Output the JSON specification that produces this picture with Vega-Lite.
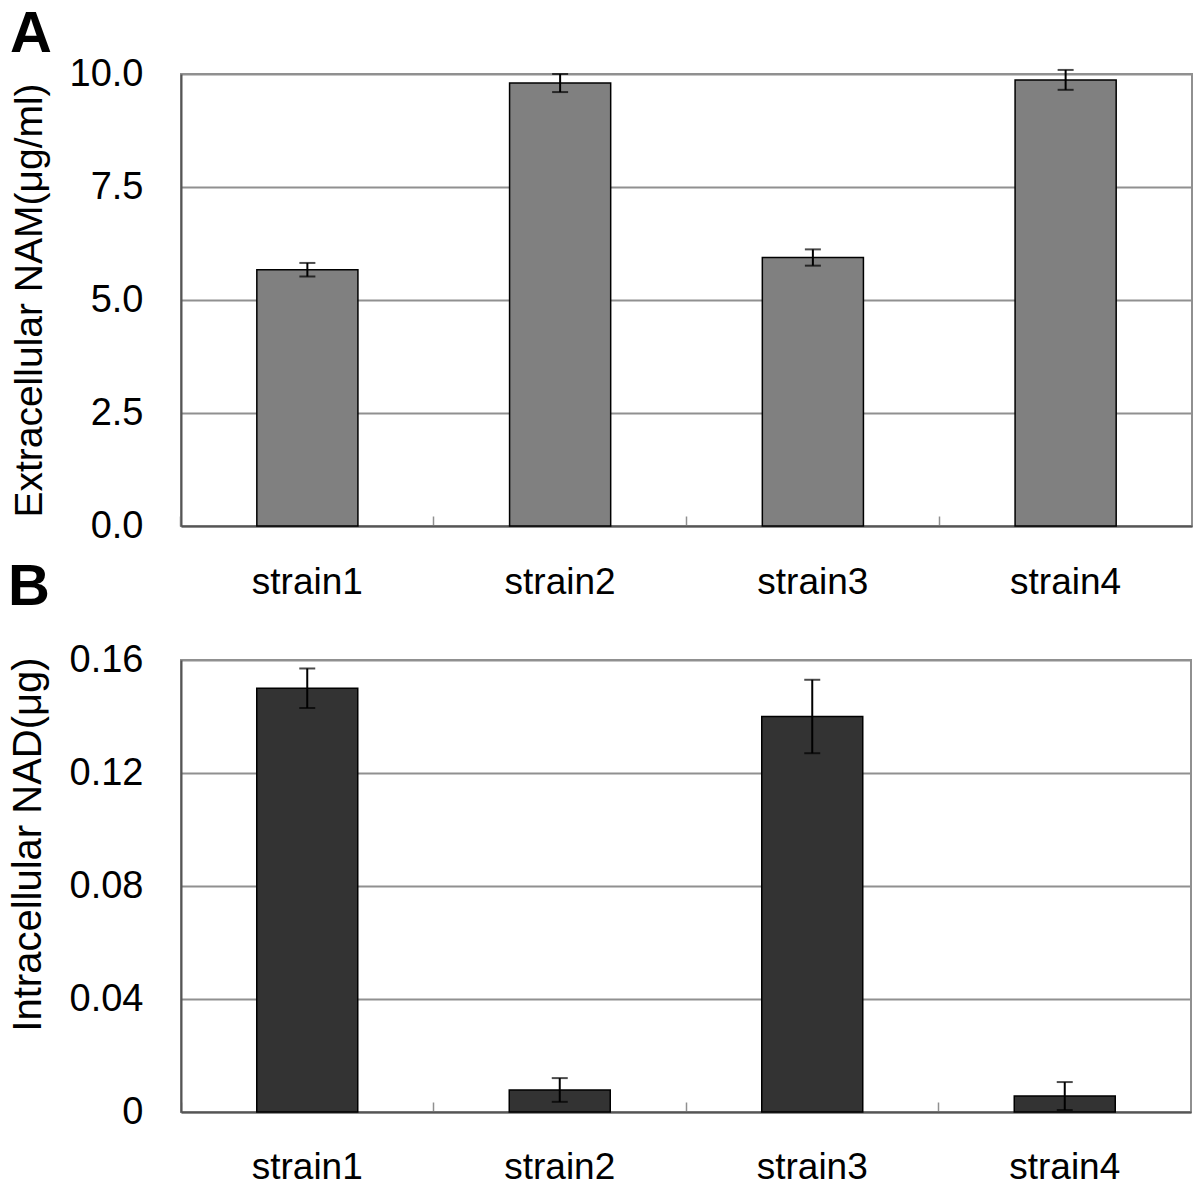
{
  "$schema": "https://vega.github.io/schema/vega-lite/v6.json",
  "padding": {"left": 7, "top": 5, "right": 0, "bottom": 0},
  "background": "white",
  "config": {
    "view": {"stroke": "#909090", "strokeWidth": 2},
    "font": "Liberation Sans"
  },
  "columns": 1,
  "spacing": -43,
  "concat": [
    {
      "width": 1011,
      "height": 452,
      "title": {"text": "A", "anchor": "start", "frame": "bounds", "fontSize": 58, "fontWeight": "bold", "font": "Liberation Sans", "color": "black", "offset": -9},
      "data": {"values": [
        {"strain": "strain1", "value": 5.67, "lo": 5.52, "hi": 5.82},
        {"strain": "strain2", "value": 9.80, "lo": 9.60, "hi": 10.0},
        {"strain": "strain3", "value": 5.94, "lo": 5.76, "hi": 6.12},
        {"strain": "strain4", "value": 9.87, "lo": 9.65, "hi": 10.09}
      ]},
      "layer": [
        {
          "mark": {"type": "bar", "fill": "#808080", "stroke": "black", "strokeWidth": 1.5},
          "encoding": {
            "x": {"field": "strain", "type": "nominal", "sort": null,
              "scale": {"paddingInner": 0.6, "paddingOuter": 0.3},
              "axis": {"title": null, "labelAngle": 0, "labelFontSize": 37, "labelColor": "black", "labelFont": "Liberation Sans",
                "tickSize": -10, "tickColor": "#909090", "tickWidth": 1.5, "bandPosition": -0.75, "labelPadding": 48,
                "domainColor": "#555555", "domainWidth": 2, "grid": false}},
            "y": {"field": "value", "type": "quantitative", "title": "Extracellular NAM(μg/ml)",
              "scale": {"domain": [0, 10]},
              "axis": {"values": [0, 2.5, 5, 7.5, 10], "format": ".1f", "ticks": false, "labelPadding": 38,
                "labelFontSize": 38, "labelColor": "black", "labelFont": "Liberation Sans",
                "titleFontSize": 39, "titleFontWeight": "normal", "titleColor": "black", "titleFont": "Liberation Sans", "titlePadding": 20,
                "domainColor": "#555555", "domainWidth": 2, "grid": true, "gridColor": "#909090", "gridWidth": 2}}
          }
        },
        {
          "mark": {"type": "errorbar", "ticks": {"size": 16, "thickness": 2, "color": "black"}, "rule": {"strokeWidth": 2, "color": "black"}},
          "encoding": {
            "x": {"field": "strain", "type": "nominal", "sort": null},
            "y": {"field": "lo", "type": "quantitative", "title": "Extracellular NAM(μg/ml)"},
            "y2": {"field": "hi"}
          }
        }
      ]
    },
    {
      "width": 1010,
      "height": 452,
      "title": {"text": "B", "anchor": "start", "frame": "bounds", "fontSize": 58, "fontWeight": "bold", "font": "Liberation Sans", "color": "black", "offset": 24},
      "data": {"values": [
        {"strain": "strain1", "value": 0.150, "lo": 0.143, "hi": 0.157},
        {"strain": "strain2", "value": 0.0078, "lo": 0.0036, "hi": 0.012},
        {"strain": "strain3", "value": 0.140, "lo": 0.127, "hi": 0.153},
        {"strain": "strain4", "value": 0.0057, "lo": 0.0007, "hi": 0.0106}
      ]},
      "layer": [
        {
          "mark": {"type": "bar", "fill": "#333333", "stroke": "black", "strokeWidth": 1.5},
          "encoding": {
            "x": {"field": "strain", "type": "nominal", "sort": null,
              "scale": {"paddingInner": 0.6, "paddingOuter": 0.3},
              "axis": {"title": null, "labelAngle": 0, "labelFontSize": 37, "labelColor": "black", "labelFont": "Liberation Sans",
                "tickSize": -10, "tickColor": "#909090", "tickWidth": 1.5, "bandPosition": -0.75, "labelPadding": 47,
                "domainColor": "#555555", "domainWidth": 2, "grid": false}},
            "y": {"field": "value", "type": "quantitative", "title": "Intracellular NAD(μg)",
              "scale": {"domain": [0, 0.16]},
              "axis": {"values": [0, 0.04, 0.08, 0.12, 0.16], "labelExpr": "datum.value == 0 ? '0' : format(datum.value, '.2f')", "ticks": false, "labelPadding": 38,
                "labelFontSize": 38, "labelColor": "black", "labelFont": "Liberation Sans",
                "titleFontSize": 40, "titleFontWeight": "normal", "titleColor": "black", "titleFont": "Liberation Sans", "titlePadding": 21, "titleY": 184,
                "domainColor": "#555555", "domainWidth": 2, "grid": true, "gridColor": "#909090", "gridWidth": 2}}
          }
        },
        {
          "mark": {"type": "errorbar", "ticks": {"size": 16, "thickness": 2, "color": "black"}, "rule": {"strokeWidth": 2, "color": "black"}},
          "encoding": {
            "x": {"field": "strain", "type": "nominal", "sort": null},
            "y": {"field": "lo", "type": "quantitative", "title": "Intracellular NAD(μg)"},
            "y2": {"field": "hi"}
          }
        }
      ]
    }
  ]
}
